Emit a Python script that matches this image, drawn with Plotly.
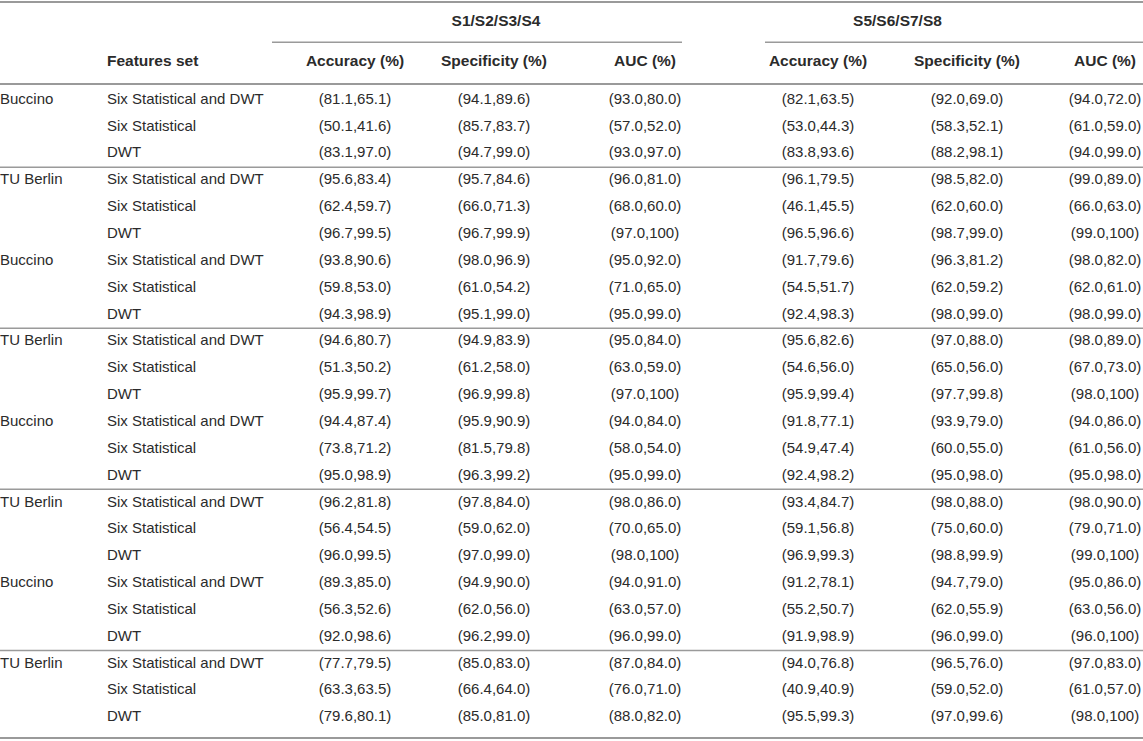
import plotly.graph_objects as go

# table contents
groups = ["Buccino", "TU Berlin"] * 4
features = ["Six Statistical and DWT", "Six Statistical", "DWT"]
headers_top = ["S1/S2/S3/S4", "S5/S6/S7/S8"]
headers_metric = ["Accuracy (%)", "Specificity (%)", "AUC (%)"]

acc_s1 = ["81.1,65.1", "50.1,41.6", "83.1,97.0", "95.6,83.4", "62.4,59.7", "96.7,99.5",
          "93.8,90.6", "59.8,53.0", "94.3,98.9", "94.6,80.7", "51.3,50.2", "95.9,99.7",
          "94.4,87.4", "73.8,71.2", "95.0,98.9", "96.2,81.8", "56.4,54.5", "96.0,99.5",
          "89.3,85.0", "56.3,52.6", "92.0,98.6", "77.7,79.5", "63.3,63.5", "79.6,80.1"]
spec_s1 = ["94.1,89.6", "85.7,83.7", "94.7,99.0", "95.7,84.6", "66.0,71.3", "96.7,99.9",
           "98.0,96.9", "61.0,54.2", "95.1,99.0", "94.9,83.9", "61.2,58.0", "96.9,99.8",
           "95.9,90.9", "81.5,79.8", "96.3,99.2", "97.8,84.0", "59.0,62.0", "97.0,99.0",
           "94.9,90.0", "62.0,56.0", "96.2,99.0", "85.0,83.0", "66.4,64.0", "85.0,81.0"]
auc_s1 = ["93.0,80.0", "57.0,52.0", "93.0,97.0", "96.0,81.0", "68.0,60.0", "97.0,100",
          "95.0,92.0", "71.0,65.0", "95.0,99.0", "95.0,84.0", "63.0,59.0", "97.0,100",
          "94.0,84.0", "58.0,54.0", "95.0,99.0", "98.0,86.0", "70.0,65.0", "98.0,100",
          "94.0,91.0", "63.0,57.0", "96.0,99.0", "87.0,84.0", "76.0,71.0", "88.0,82.0"]
acc_s5 = ["82.1,63.5", "53.0,44.3", "83.8,93.6", "96.1,79.5", "46.1,45.5", "96.5,96.6",
          "91.7,79.6", "54.5,51.7", "92.4,98.3", "95.6,82.6", "54.6,56.0", "95.9,99.4",
          "91.8,77.1", "54.9,47.4", "92.4,98.2", "93.4,84.7", "59.1,56.8", "96.9,99.3",
          "91.2,78.1", "55.2,50.7", "91.9,98.9", "94.0,76.8", "40.9,40.9", "95.5,99.3"]
spec_s5 = ["92.0,69.0", "58.3,52.1", "88.2,98.1", "98.5,82.0", "62.0,60.0", "98.7,99.0",
           "96.3,81.2", "62.0,59.2", "98.0,99.0", "97.0,88.0", "65.0,56.0", "97.7,99.8",
           "93.9,79.0", "60.0,55.0", "95.0,98.0", "98.0,88.0", "75.0,60.0", "98.8,99.9",
           "94.7,79.0", "62.0,55.9", "96.0,99.0", "96.5,76.0", "59.0,52.0", "97.0,99.6"]
auc_s5 = ["94.0,72.0", "61.0,59.0", "94.0,99.0", "99.0,89.0", "66.0,63.0", "99.0,100",
          "98.0,82.0", "62.0,61.0", "98.0,99.0", "98.0,89.0", "67.0,73.0", "98.0,100",
          "94.0,86.0", "61.0,56.0", "95.0,98.0", "98.0,90.0", "79.0,71.0", "99.0,100",
          "95.0,86.0", "63.0,56.0", "96.0,100", "97.0,83.0", "61.0,57.0", "98.0,100"]

FONT = "Liberation Sans, Arial, sans-serif"
TXT = "#2b2b2b"
LINE = "#9a9a9a"
FS = 15

n = len(acc_s1)
rows = list(range(n))
row_label = [""] * n
for g, name in enumerate(groups):
    row_label[g * 3] = name
feat_col = [features[i % 3] for i in rows]

# column centres (pixels)
col_x = [355, 494, 645, 818, 967, 1105]
cols = [acc_s1, spec_s1, auc_s1, acc_s5, spec_s5, auc_s5]

fig = go.Figure()


def text_trace(x, y, text, pos, bold=False, size=FS):
    fig.add_trace(go.Scatter(
        x=x, y=y, text=[("<b>%s</b>" % t if bold and t else t) for t in text],
        mode="text", textposition=pos, cliponaxis=False, hoverinfo="skip",
        textfont=dict(family=FONT, size=size, color=TXT), showlegend=False))


text_trace([0] * n, rows, row_label, "middle right")
text_trace([107] * n, rows, feat_col, "middle right")
for cx, c in zip(col_x, cols):
    text_trace([cx] * n, rows, ["(%s)" % v for v in c], "middle center")

# header rows
text_trace([107], [-1.42], ["Features set"], "middle right", bold=True, size=15.5)
text_trace(col_x, [-1.42] * 6, headers_metric * 2, "middle center", bold=True, size=15.5)
text_trace([(col_x[0] + col_x[2]) / 2 - 4, (col_x[3] + col_x[5]) / 2 - 64], [-2.9] * 2,
           headers_top, "middle center", bold=True, size=15.5)


# rules
def hline(x0, x1, y, w=2):
    fig.add_shape(type="line", xref="x", yref="y", x0=x0, x1=x1, y0=y, y1=y,
                  line=dict(color=LINE, width=w))


hline(0, 1143, -3.65)
hline(272, 682, -2.15, 1.5)
hline(765, 1143, -2.15, 1.5)
hline(0, 1143, -0.6)
for i in rows:
    if row_label[i] == "TU Berlin":
        hline(0, 1143, i - 0.5, 1.5)
hline(0, 1143, n - 0.24)

ROW0, STEP = 100, 26.85
fig.update_layout(
    width=1143, height=741,
    margin=dict(l=0, r=0, t=0, b=0),
    paper_bgcolor="white", plot_bgcolor="white",
    xaxis=dict(range=[0, 1143], visible=False, fixedrange=True),
    yaxis=dict(range=[(741 - ROW0) / STEP, -ROW0 / STEP], visible=False, fixedrange=True),
)

fig.write_html("out.html", config={"displayModeBar": False},
               post_script="document.body.style.margin='0';document.body.style.overflow='hidden';")
